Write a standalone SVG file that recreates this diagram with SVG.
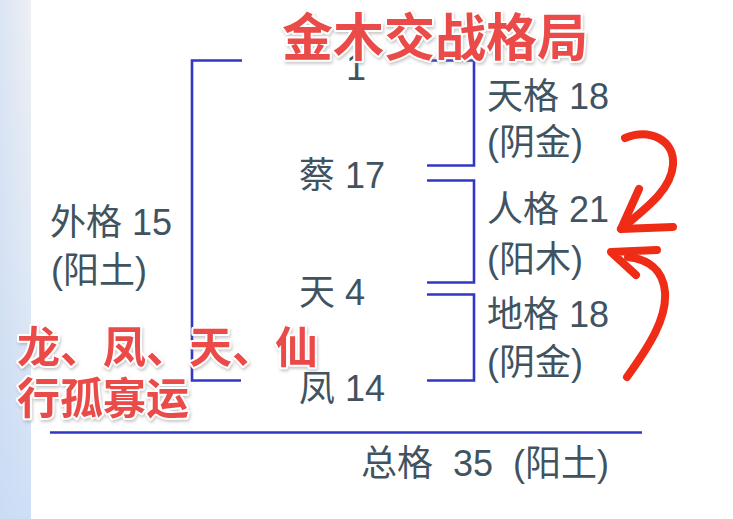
<svg xmlns="http://www.w3.org/2000/svg" width="733" height="519" viewBox="0 0 733 519">
  <defs>
    <linearGradient id="strip" x1="0" y1="0" x2="0" y2="1">
      <stop offset="0" stop-color="#eef0f4"/>
      <stop offset="0.5" stop-color="#e1e9f5"/>
      <stop offset="1" stop-color="#cfdff6"/>
    </linearGradient>
    <linearGradient id="stripH" x1="0" y1="0" x2="1" y2="0">
      <stop offset="0" stop-color="#c4d7f2" stop-opacity="0.45"/>
      <stop offset="1" stop-color="#c4d7f2" stop-opacity="0"/>
    </linearGradient>
    <filter id="shadow" x="-20%" y="-60%" width="140%" height="220%">
      <feDropShadow dx="1" dy="2" stdDeviation="1.5" flood-color="#888" flood-opacity="0.45"/>
    </filter>
  </defs>
  <style>
    .t { font-family: "Liberation Sans", "Noto Sans CJK SC", sans-serif; font-size: 36px; fill: #40535f; }
    .red { font-family: "Noto Sans CJK SC", sans-serif; font-weight: 700; fill: #ea4c4a; stroke: #ffffff; stroke-width: 4; paint-order: stroke; stroke-linejoin: round; }
    .br { fill: none; stroke: #3236c6; stroke-width: 2.6; }
    .arr { fill: none; stroke: #ef2c16; stroke-width: 8; stroke-linecap: round; stroke-linejoin: round; }
  </style>

  <rect width="733" height="519" fill="#ffffff"/>
  <rect x="0" y="0" width="31" height="519" fill="url(#strip)"/>
  <rect x="0" y="0" width="31" height="519" fill="url(#stripH)"/>

  <g id="connectors">
    <path class="br" d="M242,60.5 H192 V380.5 H241"/>
    <path class="br" d="M427,60.5 H474 V165.5 H427"/>
    <path class="br" d="M427,180.5 H474 V282.5 H427"/>
    <path class="br" d="M427,294.5 H474 V380.5 H427"/>
    <path class="br" d="M50,432.5 H642"/>
  </g>

  <g id="name-1"><text class="t" x="346" y="80">1</text></g>
  <g id="name-cai"><text class="t" x="299" y="188">蔡 17</text></g>
  <g id="name-tian"><text class="t" x="299" y="305">天 4</text></g>
  <g id="name-feng"><text class="t" x="299" y="401">凤 14</text></g>

  <g id="tiange">
    <text class="t" x="487" y="109">天格 18</text>
    <text class="t" x="487" y="155">(阴金)</text>
  </g>
  <g id="renge">
    <text class="t" x="487" y="222">人格 21</text>
    <text class="t" x="487" y="272">(阳木)</text>
  </g>
  <g id="dige">
    <text class="t" x="487" y="327">地格 18</text>
    <text class="t" x="487" y="375">(阴金)</text>
  </g>
  <g id="waige">
    <text class="t" x="50" y="235">外格 15</text>
    <text class="t" x="51" y="283">(阳土)</text>
  </g>
  <g id="zongge">
    <text class="t" x="361" y="476" word-spacing="10">总格 35 (阳土)</text>
  </g>

  <g id="title" filter="url(#shadow)">
    <text class="red" x="282" y="56" font-size="51">金木交战格局</text>
  </g>

  <g id="note" filter="url(#shadow)">
    <text class="red" x="17" y="363" font-size="43">龙、凤、天、仙</text>
    <text class="red" x="17" y="414" font-size="43">行孤寡运</text>
  </g>

  <g id="arrow-down">
    <path class="arr" d="M625,138 C650,128 675,140 673,165 C671,190 646,208 621,229"/>
    <path class="arr" d="M639,189 L621,229 L673,227"/>
  </g>
  <g id="arrow-up">
    <path class="arr" d="M627,377 C650,345 667,318 665,292 C663,268 646,259 628,257"/>
    <path class="arr" d="M657,250 L611,252 L636,275"/>
  </g>
</svg>
